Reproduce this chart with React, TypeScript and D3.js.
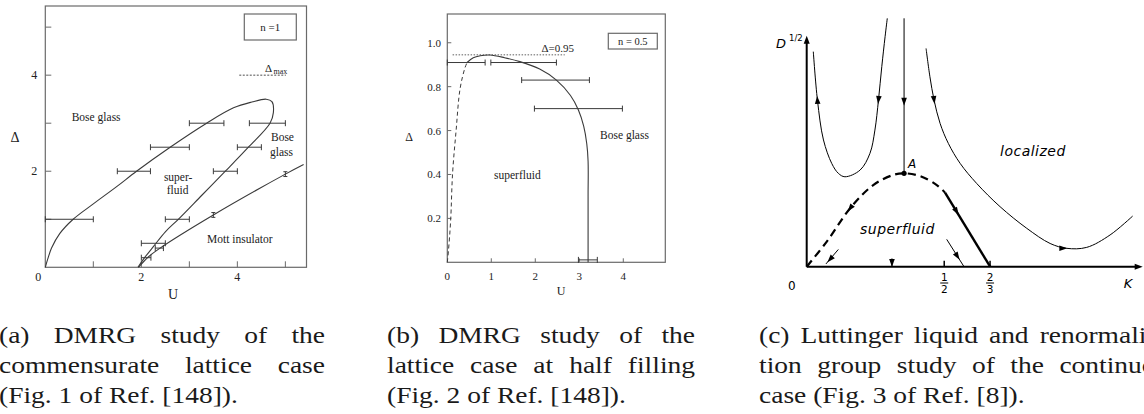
import React, { useLayoutEffect, useRef, useState } from 'react';
import * as d3 from 'd3';

type P = [number, number];

// ---------------- Panel (a): n = 1 ----------------
const aTicksU = [1, 2, 3, 4, 5];
const aTicksD = [1, 2, 3, 4, 5];
const aLabelsU = [2, 4];
const aLabelsD = [2, 4];
const aBoundary: P[] = [
  [0, 0], [0.06, 0.2], [0.13, 0.4], [0.3, 0.7], [0.58, 1.0], [1.0, 1.32], [1.5, 1.69],
  [1.9, 2.0], [2.6, 2.5], [3.36, 3.0], [3.92, 3.32], [4.3, 3.44], [4.6, 3.5], [4.72, 3.45],
  [4.75, 3.22], [4.68, 3.0], [4.23, 2.5], [3.75, 2.0], [3.26, 1.5], [2.77, 1.0],
  [2.5, 0.74], [2.25, 0.43], [2.06, 0.19], [1.93, 0],
];
const aMott: P[] = [[1.94, 0], [2.15, 0.22], [2.39, 0.4], [3.5, 1.09], [5.0, 1.94], [5.38, 2.14]];
// horizontal error bars: [Delta, U low, U high]
const aErrH: [number, number, number][] = [
  [1.0, 0, 1.0], [2.0, 1.5, 2.19], [2.5, 2.19, 3.0], [3.0, 3.0, 3.72], [3.0, 4.25, 5.0],
  [2.5, 4.0, 4.5], [2.0, 3.5, 4.0], [1.0, 2.5, 3.0], [0.5, 2.0, 2.5], [0.4, 2.29, 2.46], [0.2, 2.0, 2.2],
];
// vertical error bars: [U, Delta low, Delta high]
const aErrV: [number, number, number][] = [[3.5, 1.04, 1.14], [5.0, 1.89, 1.99]];
const aDeltaMax = { lo: 4.04, hi: 5.01, d: 4.0 };

// ---------------- Panel (b): n = 0.5 ----------------
const bTicksU = [0, 1, 2, 3, 4];
const bTicksD = [0.2, 0.4, 0.6, 0.8, 1.0];
const bSolid: P[] = [
  [0.45, 0.91], [0.59, 0.932], [0.75, 0.941], [0.97, 0.944], [1.3, 0.932], [1.65, 0.914],
  [2.1, 0.88], [2.48, 0.83], [2.8, 0.76], [2.98, 0.694], [3.1, 0.62], [3.17, 0.54],
  [3.2, 0.46], [3.2, 0.3], [3.2, 0],
];
const bDashed: P[] = [
  [0, 0], [0.025, 0.05], [0.076, 0.19], [0.12, 0.405], [0.2, 0.6], [0.29, 0.79], [0.4, 0.885], [0.45, 0.91],
];
const bErr: [number, number, number][] = [
  [0.91, 0, 0.86], [0.91, 0.99, 2.48], [0.83, 1.69, 3.23], [0.7, 1.98, 3.98], [0.011, 2.98, 3.41],
];
const bRefLine = { lo: 0.12, hi: 2.67, d: 0.945 };

// ---------------- Panel (c): RG flow ----------------
const cLeftU: P[] = [
  [0.024, 0.935], [0.039, 0.725], [0.061, 0.551], [0.091, 0.449], [0.115, 0.406], [0.139, 0.391],
  [0.194, 0.42], [0.23, 0.493], [0.248, 0.594], [0.261, 0.725], [0.273, 0.87], [0.285, 1.0], [0.293, 1.08],
];
const cVertical: P[] = [[0.354, 1.08], [0.354, 0.406]];
const cRight: P[] = [
  [0.434, 0.949], [0.448, 0.826], [0.463, 0.725], [0.485, 0.623], [0.515, 0.536], [0.558, 0.449],
  [0.618, 0.362], [0.703, 0.261], [0.8, 0.167], [0.885, 0.101], [0.945, 0.08], [1.018, 0.084],
  [1.103, 0.138], [1.185, 0.22],
];
const cDashed: P[] = [
  [0, 0], [0.073, 0.109], [0.158, 0.254], [0.242, 0.355], [0.315, 0.399], [0.354, 0.406],
  [0.412, 0.394], [0.473, 0.355], [0.503, 0.322],
];
const cThick: P[] = [[0.503, 0.322], [0.667, 0]];
const cSmallLines: [P, P][] = [
  [[0.115, 0.075], [0.07, 0.012]],
  [[0.31, 0.036], [0.31, 0]],
  [[0.509, 0.119], [0.572, 0]],
];
// arrows: at point, pointing toward second point
const cArrows: [P, P][] = [
  [[0.039, 0.725], [0.036, 0.78]],
  [[0.261, 0.725], [0.255, 0.66]],
  [[0.354, 0.717], [0.354, 0.65]],
  [[0.463, 0.725], [0.47, 0.66]],
  [[0.933, 0.08], [0.97, 0.08]],
  [[0.158, 0.254], [0.13, 0.21]],
  [[0.545, 0.24], [0.6, 0.13]],
  [[0.085, 0.032], [0.07, 0.012]],
  [[0.31, 0.016], [0.31, 0]],
  [[0.548, 0.045], [0.572, 0]],
];
const cPointA: P = [0.354, 0.406];
const cTicksK = [
  { v: 0.5, num: '1', den: '2' },
  { v: 2 / 3, num: '2', den: '3' },
];

// ---------------- Captions ----------------
const captionA = ['(a) DMRG study of the', 'commensurate lattice case', '(Fig. 1 of Ref. [148]).'];
const captionB = ['(b) DMRG study of the', 'lattice case at half filling', '(Fig. 2 of Ref. [148]).'];
const captionC = ['(c) Luttinger liquid and renormaliza-', 'tion group study of the continuous', 'case (Fig. 3 of Ref. [8]).'];

const SERIF = '"Liberation Serif", "Times New Roman", serif';
const SANS = '"DejaVu Sans", "Liberation Sans", sans-serif';
const LINE = '#3a3a3a';
const FRAME = '#6a6a6a';

const CAP_SX = 1.17;
const CAP_FS = 23.5;

function CapLine({ x, y, width, text, justify }: { x: number; y: number; width: number; text: string; justify: boolean }) {
  const ref = useRef<SVGTextElement>(null);
  const [ws, setWs] = useState(0);
  useLayoutEffect(() => {
    if (!justify || !ref.current) return;
    const el = ref.current;
    el.style.wordSpacing = '0px';
    const w = el.getComputedTextLength();
    const n = (text.match(/ /g) || []).length;
    if (n > 0) setWs((width / CAP_SX - w) / n);
  }, [text, width, justify]);
  return (
    <text
      ref={ref}
      transform={`translate(${x},${y}) scale(${CAP_SX},1)`}
      style={{ wordSpacing: `${ws}px` }}
      fontFamily={SERIF}
      fontSize={CAP_FS}
      fill="#1a1a1a"
    >
      {text}
    </text>
  );
}

function Caption({ x, width, lines }: { x: number; width: number; lines: string[] }) {
  const base = [343, 373, 403];
  return (
    <g>
      {lines.map((t, i) => (
        <CapLine key={i} x={x} y={base[i]} width={width} text={t} justify={i < lines.length - 1} />
      ))}
    </g>
  );
}

function PanelA() {
  const x = d3.scaleLinear().domain([0, 5.44]).range([45.3, 306.5]);
  const y = d3.scaleLinear().domain([0, 5.44]).range([267.3, 6]);
  const line = d3.line<P>().x(d => x(d[0])).y(d => y(d[1])).curve(d3.curveCatmullRom.alpha(0.5));
  const straight = d3.line<P>().x(d => x(d[0])).y(d => y(d[1]));
  const cap = 3;
  return (
    <g fontFamily={SERIF} fill="#222">
      <rect x={x(0)} y={y(5.44)} width={x(5.44) - x(0)} height={y(0) - y(5.44)} fill="none" stroke={FRAME} strokeWidth={1.2} />
      {aTicksU.map(t => <line key={'u' + t} x1={x(t)} x2={x(t)} y1={y(0)} y2={y(0) - 6} stroke={FRAME} />)}
      {aTicksD.map(t => <line key={'d' + t} x1={x(0)} x2={x(0) + 6} y1={y(t)} y2={y(t)} stroke={FRAME} />)}
      {aLabelsU.map(t => <text key={'lu' + t} x={x(t)} y={281} fontSize={12} textAnchor="middle">{t}</text>)}
      <text x={x(0) - 7} y={281} fontSize={12} textAnchor="middle">0</text>
      {aLabelsD.map(t => <text key={'ld' + t} x={x(0) - 8} y={y(t) + 4} fontSize={12} textAnchor="end">{t}</text>)}
      <text x={15} y={142} fontSize={14} textAnchor="middle">Δ</text>
      <text x={173} y={299} fontSize={14} textAnchor="middle">U</text>

      <path d={line(aBoundary) || ''} fill="none" stroke={LINE} strokeWidth={1.1} />
      <path d={line(aMott) || ''} fill="none" stroke={LINE} strokeWidth={1.1} />
      {aErrH.map(([d, lo, hi], i) => (
        <g key={'eh' + i} stroke={LINE} strokeWidth={1}>
          <line x1={x(lo)} x2={x(hi)} y1={y(d)} y2={y(d)} />
          <line x1={x(lo)} x2={x(lo)} y1={y(d) - cap} y2={y(d) + cap} />
          <line x1={x(hi)} x2={x(hi)} y1={y(d) - cap} y2={y(d) + cap} />
        </g>
      ))}
      {aErrV.map(([u, lo, hi], i) => (
        <g key={'ev' + i} stroke={LINE} strokeWidth={1}>
          <line x1={x(u)} x2={x(u)} y1={y(lo)} y2={y(hi)} />
          <line x1={x(u) - 2} x2={x(u) + 2} y1={y(lo)} y2={y(lo)} />
          <line x1={x(u) - 2} x2={x(u) + 2} y1={y(hi)} y2={y(hi)} />
        </g>
      ))}
      <path d={straight([[aDeltaMax.lo, aDeltaMax.d], [aDeltaMax.hi, aDeltaMax.d]]) || ''} stroke={LINE} strokeWidth={0.9} strokeDasharray="2,1.5" />
      <text x={265} y={72} fontSize={11}>Δ</text>
      <text x={273.5} y={73.5} fontSize={8}>max</text>

      <rect x={244.3} y={14} width={52} height={26} fill="none" stroke={FRAME} strokeWidth={1.2} />
      <text x={270.3} y={31} fontSize={11} textAnchor="middle">n =1</text>

      <text x={x(0.55)} y={y(3.05)} fontSize={11.5}>Bose glass</text>
      <text x={x(4.7)} y={y(2.63)} fontSize={11.5}>Bose</text>
      <text x={x(4.68)} y={y(2.32)} fontSize={11.5}>glass</text>
      <text x={x(2.47)} y={y(1.8)} fontSize={11.5}>super-</text>
      <text x={x(2.53)} y={y(1.53)} fontSize={11.5}>fluid</text>
      <text x={x(3.37)} y={y(0.5)} fontSize={11.5}>Mott insulator</text>
    </g>
  );
}

function PanelB() {
  const x = d3.scaleLinear().domain([0, 4.955]).range([447.3, 665.3]);
  const y = d3.scaleLinear().domain([0, 1.131]).range([262.3, 14]);
  const line = d3.line<P>().x(d => x(d[0])).y(d => y(d[1])).curve(d3.curveCatmullRom.alpha(0.5));
  const straight = d3.line<P>().x(d => x(d[0])).y(d => y(d[1]));
  const cap = 3;
  return (
    <g fontFamily={SERIF} fill="#222">
      <rect x={x(0)} y={y(1.131)} width={x(4.955) - x(0)} height={y(0) - y(1.131)} fill="none" stroke={FRAME} strokeWidth={1.2} />
      {bTicksD.map(t => (
        <g key={'d' + t}>
          <line x1={x(0)} x2={x(0) + 4} y1={y(t)} y2={y(t)} stroke={FRAME} />
          <text x={441} y={y(t) + 4} fontSize={11} textAnchor="end">{t.toFixed(1)}</text>
        </g>
      ))}
      {bTicksU.map(t => (
        <g key={'u' + t}>
          {t > 0 && <line x1={x(t)} x2={x(t)} y1={y(0)} y2={y(0) - 4} stroke={FRAME} />}
          <text x={x(t)} y={280} fontSize={11} textAnchor="middle">{t}</text>
        </g>
      ))}
      <text x={409} y={141} fontSize={12} textAnchor="middle">Δ</text>
      <text x={561} y={295} fontSize={12} textAnchor="middle">U</text>

      <path d={line(bSolid) || ''} fill="none" stroke={LINE} strokeWidth={1.1} />
      <path d={line(bDashed) || ''} fill="none" stroke={LINE} strokeWidth={1} strokeDasharray="4,3" />
      <path d={straight([[bRefLine.lo, bRefLine.d], [bRefLine.hi, bRefLine.d]]) || ''} stroke={LINE} strokeWidth={0.8} strokeDasharray="1.5,1.5" />
      {bErr.map(([d, lo, hi], i) => (
        <g key={'e' + i} stroke={LINE} strokeWidth={1}>
          <line x1={x(lo)} x2={x(hi)} y1={y(d)} y2={y(d)} />
          <line x1={x(lo)} x2={x(lo)} y1={y(d) - cap} y2={y(d) + cap} />
          <line x1={x(hi)} x2={x(hi)} y1={y(d) - cap} y2={y(d) + cap} />
        </g>
      ))}
      <text x={541.5} y={51.5} fontSize={11}>Δ=0.95</text>
      <rect x={608.3} y={33.3} width={49} height={15.7} fill="none" stroke={FRAME} strokeWidth={1.2} />
      <text x={632.8} y={45} fontSize={10.5} textAnchor="middle">n = 0.5</text>
      <text x={600} y={139} fontSize={11.5}>Bose glass</text>
      <text x={494} y={179} fontSize={11.5}>superfluid</text>
    </g>
  );
}

function arrowHead(px: number, py: number, qx: number, qy: number, len = 8, half = 2.8) {
  const dx = qx - px, dy = qy - py;
  const L = Math.hypot(dx, dy) || 1;
  const ux = dx / L, uy = dy / L;
  const tipX = px + ux * len / 2, tipY = py + uy * len / 2;
  const bx = px - ux * len / 2, by = py - uy * len / 2;
  return `M${tipX},${tipY}L${bx - uy * half},${by + ux * half}L${bx + uy * half},${by - ux * half}Z`;
}

function PanelC() {
  const x = d3.scaleLinear().domain([0, 1.218]).range([806.7, 1141.7]);
  const y = d3.scaleLinear().domain([0, 1]).range([266.7, 36.7]);
  const smooth = d3.line<P>().x(d => x(d[0])).y(d => y(d[1])).curve(d3.curveCatmullRom.alpha(0.5));
  const straight = d3.line<P>().x(d => x(d[0])).y(d => y(d[1]));
  return (
    <g>
      {/* axes */}
      <line x1={x(0)} x2={x(0)} y1={y(0)} y2={y(1) + 4} stroke="#000" strokeWidth={2} />
      <path d={arrowHead(x(0), y(1) + 3, x(0), y(1) - 10, 8, 3)} fill="#000" />
      <line x1={x(0)} x2={x(1.218) - 4} y1={y(0)} y2={y(0)} stroke="#000" strokeWidth={2} />
      <path d={arrowHead(x(1.218) - 3, y(0), x(1.218) + 10, y(0), 8, 3)} fill="#000" />

      <path d={smooth(cLeftU) || ''} fill="none" stroke="#000" strokeWidth={1} />
      <path d={straight(cVertical) || ''} fill="none" stroke="#000" strokeWidth={1} />
      <path d={smooth(cRight) || ''} fill="none" stroke="#000" strokeWidth={1} />
      <path d={smooth(cDashed) || ''} fill="none" stroke="#000" strokeWidth={2.2} strokeDasharray="8,5" />
      <path d={straight(cThick) || ''} fill="none" stroke="#000" strokeWidth={2.4} />
      {cSmallLines.map((s, i) => (
        <path key={'s' + i} d={straight(s) || ''} stroke="#000" strokeWidth={1} fill="none" />
      ))}
      {cArrows.map(([p, q], i) => (
        <path key={'a' + i} d={arrowHead(x(p[0]), y(p[1]), x(q[0]), y(q[1]))} fill="#000" />
      ))}
      <circle cx={x(cPointA[0])} cy={y(cPointA[1])} r={2.6} fill="#000" />
      <text x={x(cPointA[0]) + 4} y={y(cPointA[1]) - 5} fontFamily={SANS} fontStyle="italic" fontSize={12}>A</text>

      {cTicksK.map(t => (
        <g key={t.num + t.den} fontFamily={SANS} fontSize={10.5} textAnchor="middle">
          <line x1={x(t.v)} x2={x(t.v)} y1={y(0)} y2={y(0) - 6} stroke="#000" strokeWidth={1.5} />
          <text x={x(t.v)} y={281}>{t.num}</text>
          <line x1={x(t.v) - 4} x2={x(t.v) + 4} y1={283} y2={283} stroke="#000" strokeWidth={1} />
          <text x={x(t.v)} y={293}>{t.den}</text>
        </g>
      ))}
      <text x={791.7} y={290} fontFamily={SANS} fontSize={12} textAnchor="middle">0</text>
      <text x={1128} y={288} fontFamily={SANS} fontStyle="italic" fontSize={13} textAnchor="middle">K</text>
      <text x={776} y={48} fontFamily={SANS} fontStyle="italic" fontSize={13}>D</text>
      <text x={789} y={41} fontFamily={SANS} fontSize={8.5}>1/2</text>
      <text x={1000} y={156} fontFamily={SANS} fontStyle="italic" fontSize={14} letterSpacing={0.5}>localized</text>
      <text x={860} y={234} fontFamily={SANS} fontStyle="italic" fontSize={14} letterSpacing={0.5}>superfluid</text>
    </g>
  );
}

export default function App() {
  return (
    <svg width={1144} height={414} style={{ position: 'absolute', left: 0, top: 0, background: '#fff' }}>
      <rect x={0} y={0} width={1144} height={414} fill="#fff" />
      <PanelA />
      <PanelB />
      <PanelC />
      <Caption x={-1} width={326} lines={captionA} />
      <Caption x={387} width={308} lines={captionB} />
      <Caption x={759} width={421} lines={captionC} />
    </svg>
  );
}
